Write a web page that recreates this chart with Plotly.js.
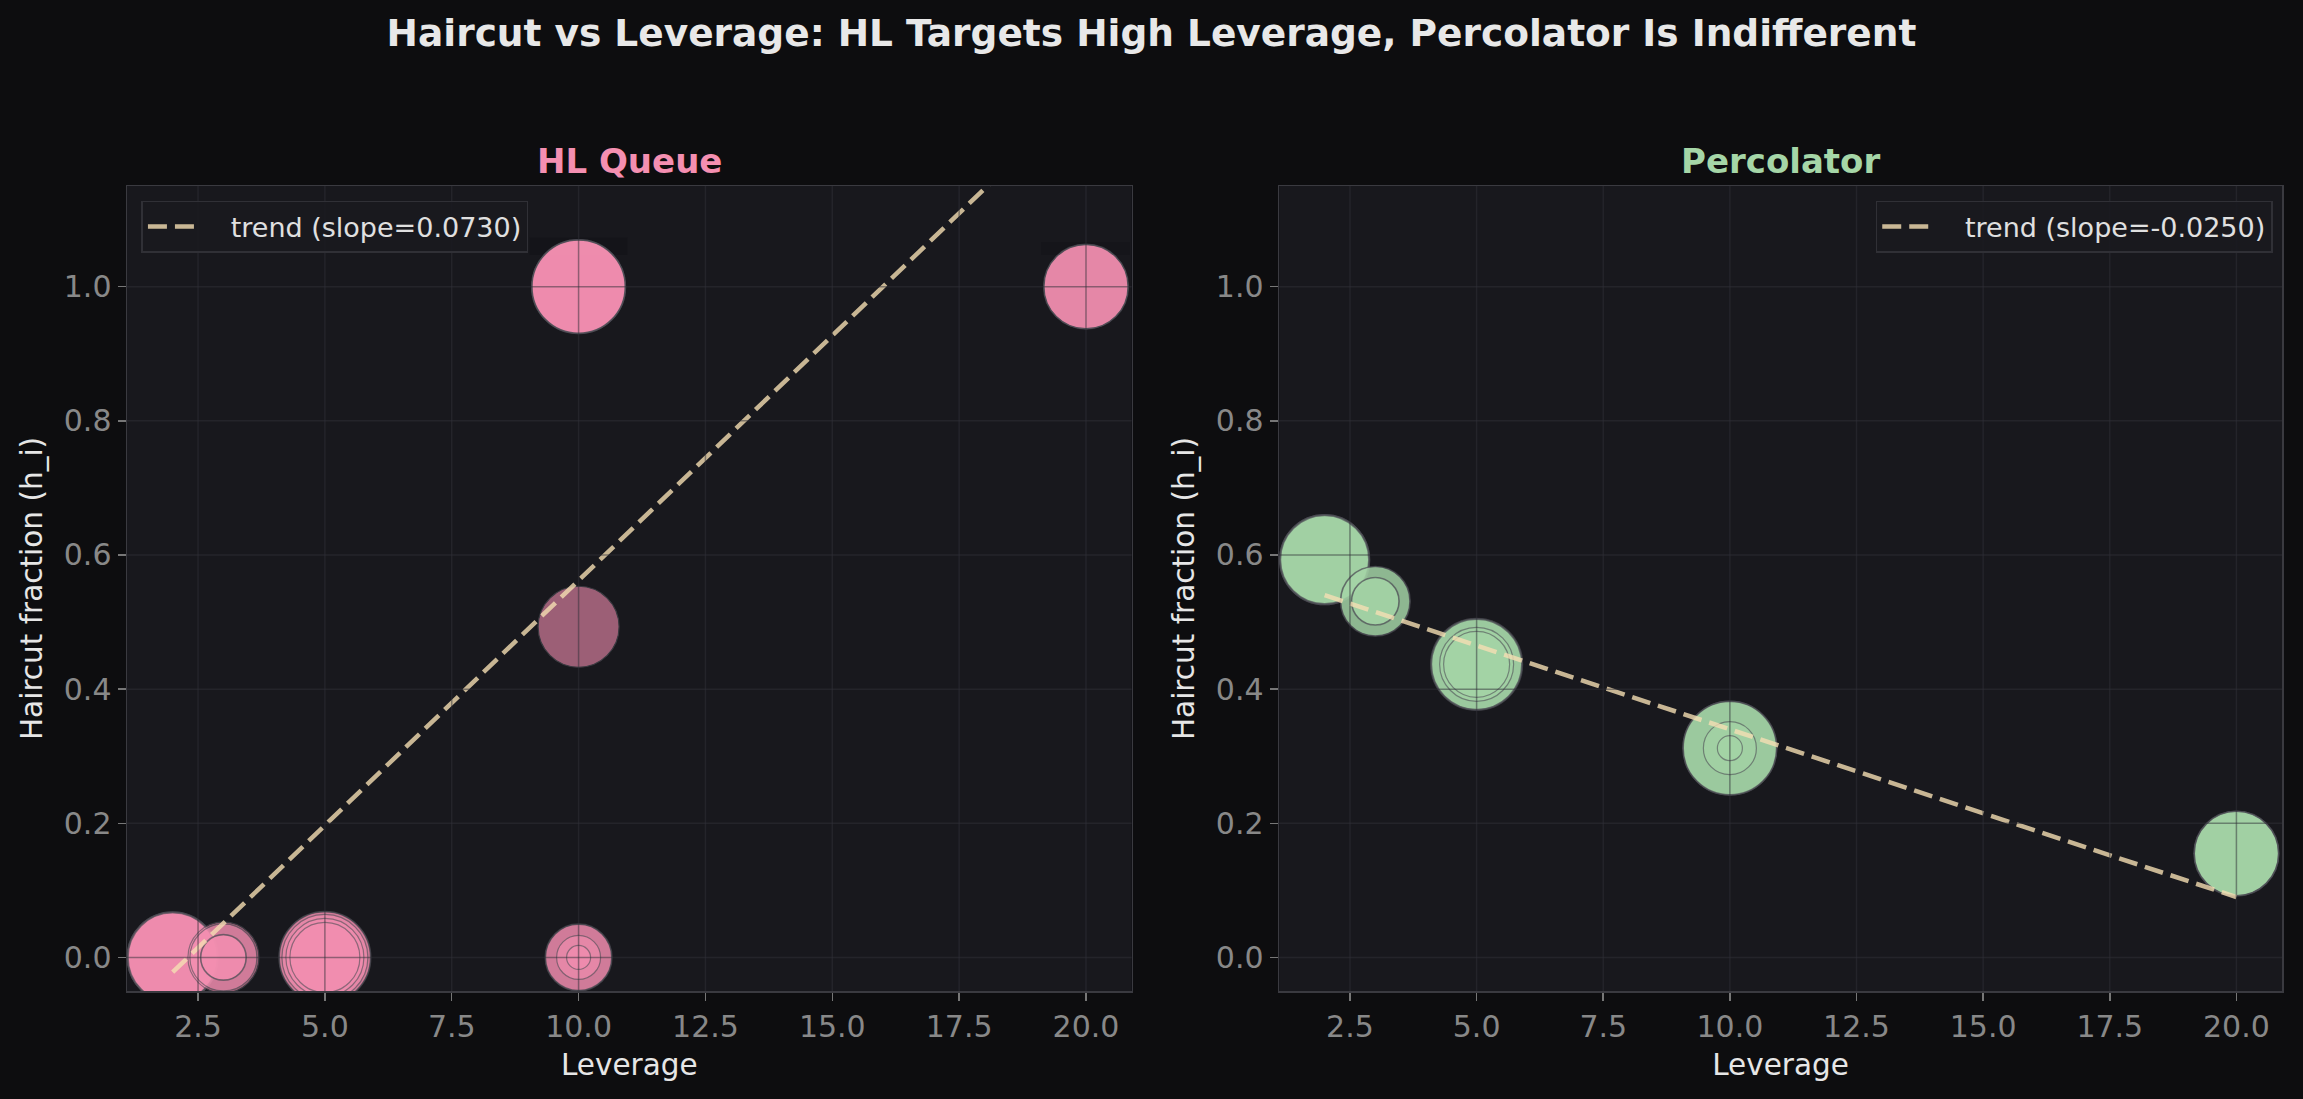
<!DOCTYPE html>
<html>
<head>
<meta charset="utf-8">
<script src="https://cdn.plot.ly/plotly-3.0.1.min.js"></script>
<style>
  html, body { margin: 0; padding: 0; background: #0d0d0f; }
  #chart { width: 2303px; height: 1099px; }
</style>
</head>
<body>
<div id="chart"></div>
<script>
// ---------------- data ----------------
const chartTitle = 'Haircut vs Leverage: HL Targets High Leverage, Percolator Is Indifferent';
const panelTitles = ['HL Queue', 'Percolator'];
const xAxisLabel = 'Leverage';
const yAxisLabel = 'Haircut fraction (h_i)';
const xTicks = [2.5, 5, 7.5, 10, 12.5, 15, 17.5, 20];
const yTicks = [0, 0.2, 0.4, 0.6, 0.8, 1.0];

// HL Queue: individual positions (many overlap at the same point)
const hlLeverage  = [2, 2, 2, 2,   3, 3, 3, 3,   5, 5, 5, 5, 5,   10, 10, 10, 10,   10,    10, 10, 10, 10,   20, 20, 20];
const hlHaircut   = [0, 0, 0, 0,   0, 0, 0, 0,   0, 0, 0, 0, 0,   0, 0, 0, 0,       0.493, 1, 1, 1, 1,      1, 1, 1];
const hlBubble    = [91, 91, 90, 89,  71, 67, 46, 45,  92, 91, 86, 78, 70,  67, 66, 44, 24,  81,  94, 94, 93, 93,  85, 84, 84];
const hlSlope = 0.0730;
const hlIntercept = -0.168;

// Percolator
const pcLeverage  = [2, 2, 2, 2,   3, 3, 3, 3,   5, 5, 5, 5, 5,   10, 10, 10, 10, 10,   20, 20, 20, 20];
const pcHaircut   = [0.593, 0.593, 0.593, 0.593, 0.531, 0.531, 0.531, 0.531,
                     0.437, 0.437, 0.437, 0.437, 0.437,
                     0.312, 0.312, 0.312, 0.312, 0.312, 0.155, 0.155, 0.155, 0.155];
const pcBubble    = [90, 90, 89, 88,  70, 69, 48, 47,  92, 91, 90, 74, 66,  94, 94, 93, 53, 25,  85, 85, 84, 84];
const pcSlope = -0.0250;
const pcIntercept = 0.590;

// ---------------- styling ----------------
const PINK = '#f48fb1';
const GREEN = '#a5d6a7';
const TREND = 'rgb(245,222,179)';
const FONT = 'DejaVu Sans, Verdana, sans-serif';

function trendLine(xs, slope, intercept) {
  const lo = Math.min(...xs), hi = Math.max(...xs);
  return { x: [lo, hi], y: [slope * lo + intercept, slope * hi + intercept] };
}

const hlTrend = trendLine(hlLeverage, hlSlope, hlIntercept);
const pcTrend = trendLine(pcLeverage, pcSlope, pcIntercept);

// one trace per overlapping cluster of positions
function bubbleTraces(x, y, s, color, xa, ya) {
  const groups = new Map();
  x.forEach((xv, i) => {
    const key = xv + '|' + y[i];
    if (!groups.has(key)) groups.set(key, { x: [], y: [], s: [] });
    const g = groups.get(key);
    g.x.push(xv); g.y.push(y[i]); g.s.push(s[i]);
  });
  return Array.from(groups.values()).map(g => ({
    type: 'scatter', mode: 'markers', x: g.x, y: g.y, xaxis: xa, yaxis: ya,
    marker: { size: g.s, sizemode: 'diameter', color: color, opacity: 0.6,
              line: { color: 'rgb(80,80,88)', width: 1.2 } },
    showlegend: false, hoverinfo: 'skip'
  }));
}

function trendTrace(t, slope, xa, ya, legendId) {
  return {
    type: 'scatter', mode: 'lines', x: t.x, y: t.y, xaxis: xa, yaxis: ya,
    name: '\u00a0\u00a0\u00a0trend (slope=' + slope.toFixed(4) + ')',
    line: { color: TREND, width: 4.5, dash: '19px,8px' },
    opacity: 0.8, legend: legendId, showlegend: true, hoverinfo: 'skip'
  };
}

const data = [].concat(
  bubbleTraces(hlLeverage, hlHaircut, hlBubble, PINK, 'x', 'y'),
  [trendTrace(hlTrend, hlSlope, 'x', 'y', 'legend')],
  bubbleTraces(pcLeverage, pcHaircut, pcBubble, GREEN, 'x2', 'y2'),
  [trendTrace(pcTrend, pcSlope, 'x2', 'y2', 'legend2')]
);

const axisCommon = {
  showgrid: false, zeroline: false,
  showline: true, mirror: true, linecolor: '#3a3a40', linewidth: 1.5,
  ticks: 'outside', ticklen: 8, tickwidth: 1.5, tickcolor: '#777',
  tickfont: { family: FONT, size: 30, color: '#888888' },
  tickformat: '.1f', tickmode: 'array'
};

function xAxis(domain, anchor) {
  return Object.assign({}, axisCommon, {
    domain: domain, anchor: anchor, range: [1.1, 20.9], tickvals: xTicks,
    title: { text: xAxisLabel, font: { family: FONT, size: 29.5, color: '#e6e6e6' }, standoff: 12 }
  });
}
function yAxis(anchor) {
  return Object.assign({}, axisCommon, {
    domain: [0, 1], anchor: anchor, range: [-0.05, 1.15], tickvals: yTicks,
    title: { text: yAxisLabel, font: { family: FONT, size: 29.5, color: '#e6e6e6' }, standoff: 12 }
  });
}

// grid lines drawn above the bubbles (as in the reference)
const gridColor = 'rgba(48,48,56,0.5)';
const shapes = [];
[['x', 'y'], ['x2', 'y2']].forEach(([xa, ya]) => {
  xTicks.forEach(v => shapes.push({ type: 'line', layer: 'above', xref: xa, yref: ya + ' domain',
    x0: v, x1: v, y0: 0, y1: 1, line: { color: gridColor, width: 1.5 } }));
  yTicks.forEach(v => shapes.push({ type: 'line', layer: 'above', xref: xa + ' domain', yref: ya,
    x0: 0, x1: 1, y0: v, y1: v, line: { color: gridColor, width: 1.5 } }));
});

const legendCommon = {
  bgcolor: 'rgba(26,26,31,0.9)', bordercolor: '#303036', borderwidth: 1.5,
  font: { family: FONT, size: 27, color: '#e0e0e0' },
  xref: 'paper', yref: 'paper', yanchor: 'top', y: 0.9815, itemwidth: 52
};

const layout = {
  width: 2303, height: 1099,
  paper_bgcolor: '#0d0d0f', plot_bgcolor: '#18181d',
  margin: { l: 127, r: 21, t: 186, b: 108, pad: 0 },
  font: { family: FONT, color: '#e0e0e0' },
  title: {
    text: '<b>' + chartTitle + '</b>',
    font: { family: FONT, size: 37.5, color: '#e8e8e8' },
    x: 0.5, xref: 'container', xanchor: 'center',
    y: 1 - 33 / 1099, yref: 'container', yanchor: 'middle'
  },
  xaxis: xAxis([0, 0.4662], 'y'),
  yaxis: yAxis('x'),
  xaxis2: xAxis([0.5346, 1], 'y2'),
  yaxis2: yAxis('x2'),
  legend: Object.assign({}, legendCommon, { x: 0.0067, xanchor: 'left' }),
  legend2: Object.assign({}, legendCommon, { x: 0.9957, xanchor: 'right' }),
  shapes: shapes,
  annotations: [
    { text: '<b>' + panelTitles[0] + '</b>', xref: 'x domain', yref: 'paper', x: 0.5, y: 1,
      xanchor: 'center', yanchor: 'bottom', yshift: 3, showarrow: false,
      font: { family: FONT, size: 34, color: PINK } },
    { text: '<b>' + panelTitles[1] + '</b>', xref: 'x2 domain', yref: 'paper', x: 0.5, y: 1,
      xanchor: 'center', yanchor: 'bottom', yshift: 3, showarrow: false,
      font: { family: FONT, size: 34, color: GREEN } }
  ],
  hovermode: false
};

Plotly.newPlot('chart', data, layout, { displayModeBar: false, staticPlot: true });
</script>
</body>
</html>
